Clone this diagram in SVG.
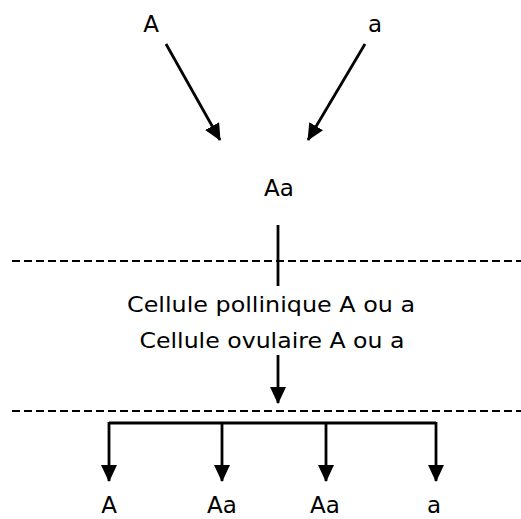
<svg xmlns="http://www.w3.org/2000/svg" width="521" height="519" viewBox="0 0 521 519">
<style>
text{font-family:"DejaVu Sans","Liberation Sans",sans-serif;font-size:23px;fill:#000;text-anchor:middle}
.mid{font-size:22px}
.ln{stroke:#000;stroke-width:2.8;fill:none}
.dash{stroke:#000;stroke-width:2;stroke-dasharray:8 4;fill:none}
</style>
<defs>
<marker id="ah" viewBox="0 0 17 16" refX="16" refY="8" markerWidth="17" markerHeight="16" markerUnits="userSpaceOnUse" orient="auto">
<path d="M0,0 L17,8 L0,16 Z" fill="#000"/>
</marker>
</defs>
<rect width="521" height="519" fill="#fff"/>
<g id="n-A"><text x="151" y="32">A</text></g>
<g id="n-a"><text x="375" y="32">a</text></g>
<g id="n-Aa"><text x="279" y="196">Aa</text></g>
<g id="n-cells">
<text class="mid" x="271" y="312" textLength="288" lengthAdjust="spacingAndGlyphs">Cellule pollinique A ou a</text>
<text class="mid" x="272" y="348" textLength="265" lengthAdjust="spacingAndGlyphs">Cellule ovulaire A ou a</text>
</g>
<g id="n-r1"><text x="109" y="513">A</text></g>
<g id="n-r2"><text x="222" y="513">Aa</text></g>
<g id="n-r3"><text x="325" y="513">Aa</text></g>
<g id="n-r4"><text x="434" y="513">a</text></g>
<g id="separators">
<line class="dash" x1="12" y1="261" x2="521" y2="261"/>
<line class="dash" x1="12" y1="411" x2="521" y2="411"/>
</g>
<g id="connectors">
<line class="ln" x1="166" y1="44" x2="220" y2="140" marker-end="url(#ah)"/>
<line class="ln" x1="365" y1="44" x2="308" y2="140" marker-end="url(#ah)"/>
<line class="ln" x1="278" y1="225" x2="278" y2="286"/>
<line class="ln" x1="278" y1="355" x2="278" y2="403" marker-end="url(#ah)"/>
<polyline class="ln" points="109,423 436,423"/>
<line class="ln" x1="109" y1="422" x2="109" y2="481" marker-end="url(#ah)"/>
<line class="ln" x1="222" y1="422" x2="222" y2="481" marker-end="url(#ah)"/>
<line class="ln" x1="326" y1="422" x2="326" y2="481" marker-end="url(#ah)"/>
<line class="ln" x1="436" y1="422" x2="436" y2="481" marker-end="url(#ah)"/>
</g>
</svg>
